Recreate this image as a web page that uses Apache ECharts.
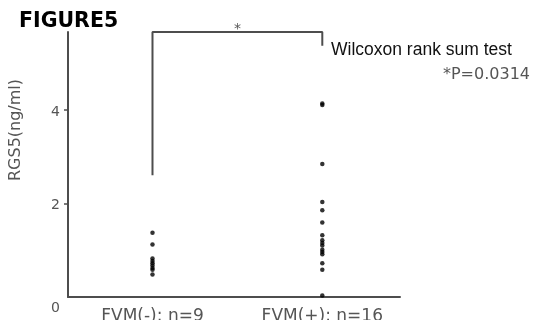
<!DOCTYPE html>
<html><head><meta charset="utf-8">
<script src="https://cdn.jsdelivr.net/npm/echarts@6/dist/echarts.min.js"></script>
<style>html,body{margin:0;padding:0;background:#fff}#c{width:534px;height:320px}</style>
</head><body><div id="c"></div>
<script>
const categories = ['FVM(-): n=9', 'FVM(+): n=16'];
const fvmNeg = [1.37, 1.12, 0.82, 0.77, 0.72, 0.67, 0.62, 0.58, 0.48];
const fvmPos = [4.13, 4.10, 2.84, 2.03, 1.85, 1.59, 1.32, 1.21, 1.15, 1.10, 1.01, 0.96, 0.91, 0.72, 0.58, 0.03];
const yTicks = [0, 2, 4];
const yMax = 5.656;
const bracketLeftBottom = 2.6;
const bracketRightBottom = 5.36;
const titleText = 'FIGURE5';
const yName = 'RGS5(ng/ml)';
const testName = 'Wilcoxon rank sum test';
const pText = '*P=0.0314';
const sigMark = '*';

const axisColor = '#4d4d4d';
const textColor = '#555';

const chart = echarts.init(document.getElementById('c'), null, {renderer: 'canvas'});
const toPts = (arr, x) => arr.map(v => [x, v]);
chart.setOption({
  animation: false,
  grid: {left: 68, top: 32, bottom: 23, width: 332, containLabel: false, outerBoundsMode: 'none'},
  xAxis: {
    type: 'value', min: 0.5024, max: 2.4576,
    axisLine: {show: true, onZero: false, lineStyle: {color: axisColor, width: 2}},
    axisTick: {show: false},
    splitLine: {show: false},
    axisLabel: {
      customValues: [1, 2],
      formatter: v => categories[Math.round(v) - 1] || '',
      color: textColor, fontFamily: 'DejaVu Sans', fontSize: 17, margin: 11
    }
  },
  yAxis: {
    type: 'value', min: 0, max: yMax,
    axisLine: {show: true, lineStyle: {color: axisColor, width: 2}},
    axisTick: {show: true, customValues: yTicks.filter(v => v > 0), length: 4, lineStyle: {color: axisColor, width: 1.5}},
    splitLine: {show: false},
    axisLabel: {
      customValues: yTicks,
      formatter: v => v === 0 ? '{z|0}' : '{a|' + v + '}',
      color: textColor, fontFamily: 'DejaVu Sans', fontSize: 14, margin: 8,
      rich: {
        a: {color: textColor, fontFamily: 'DejaVu Sans', fontSize: 14, padding: [5, 0, 0, 0]},
        z: {color: textColor, fontFamily: 'DejaVu Sans', fontSize: 14, padding: [22, 0, 0, 0]}
      }
    }
  },
  series: [
    {type: 'scatter', data: toPts(fvmNeg, 1), symbolSize: 4.5, itemStyle: {color: '#000'}, z: 5},
    {type: 'scatter', data: toPts(fvmPos, 2), symbolSize: 4.5, itemStyle: {color: '#000'}, z: 5},
    {type: 'line', clip: false, symbol: 'none', silent: true,
     data: [[1, bracketLeftBottom], [1, yMax], [2, yMax], [2, bracketRightBottom]],
     lineStyle: {color: axisColor, width: 2}}
  ]
});

const mid = chart.convertToPixel({gridIndex: 0}, [1.5, yMax]);
chart.setOption({
  graphic: [
    {type: 'text', left: 19, top: 11, style: {text: titleText, font: 'bold 20.5px "DejaVu Sans"', fill: '#000'}},
    {type: 'text', x: 16, y: 130, rotation: Math.PI / 2, style: {text: yName, font: '16px "DejaVu Sans"', fill: textColor, align: 'center', verticalAlign: 'middle'}},
    {type: 'text', x: mid[0], y: mid[1] - 3, style: {text: sigMark, font: '14px "DejaVu Sans"', fill: textColor, align: 'center', verticalAlign: 'middle'}},
    {type: 'text', x: 331, y: 50, style: {text: testName, font: '17.5px "Liberation Sans"', fill: '#111', align: 'left', verticalAlign: 'middle'}},
    {type: 'text', x: 530, y: 75, style: {text: pText, font: '16px "DejaVu Sans"', fill: textColor, align: 'right', verticalAlign: 'middle'}}
  ]
});
</script></body></html>
